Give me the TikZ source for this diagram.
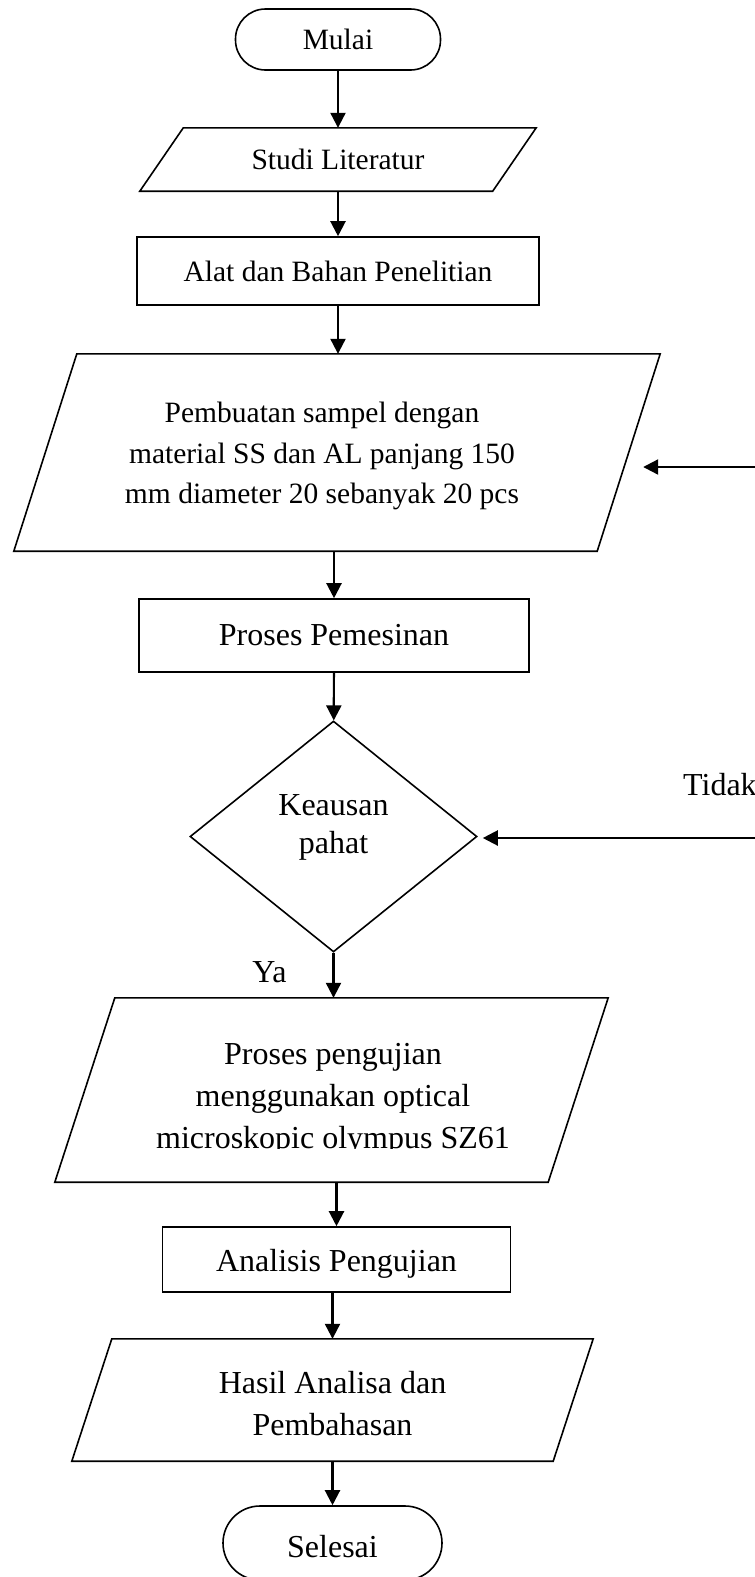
\documentclass[tikz,border=0pt]{standalone}
\usepackage{fontspec}
\setmainfont{Liberation Serif}
\usetikzlibrary{shapes.geometric,arrows.meta}

\begin{document}
\begin{tikzpicture}[x=1pt,y=-1pt]

% font sizes
\def\fsmall{\fontsize{29.5}{40.5}\selectfont}
\def\fbig{\fontsize{32}{42}\selectfont}
% node style definition
\tikzstyle{term} = [draw, rectangle, line width=1.6pt, inner sep=0pt];
\tikzstyle{block} = [draw, rectangle, line width=1.6pt, inner sep=0pt];
\tikzstyle{io} = [rectangle, inner sep=0pt, align=center];
\tikzstyle{decision} = [draw, diamond, line width=1.6pt, inner sep=0pt];
\tikzstyle{plain} = [draw=none, fill=none, inner sep=0pt, align=center];
\tikzstyle{arr} = [-{Triangle[length=15pt,width=15pt]}, line width=2.2pt];
% slanted outline round an io node
\def\iobox#1#2{\draw[line width=1.6pt] (#1.south west) -- ([xshift=#2]#1.north west)
	-- (#1.north east) -- ([xshift=-#2]#1.south east) -- cycle;}

\useasboundingbox (0,0) rectangle (755,1577);

\node[term, rounded corners=30pt, minimum width=205pt, minimum height=61pt, font=\fsmall] (mulai) at (338,39.5) {Mulai};

\node[io, minimum width=396pt, minimum height=63pt, font=\fsmall] (studi) at (338,159.5) {Studi Literatur};
\iobox{studi}{43.5pt}

\node[block, minimum width=402pt, minimum height=68pt, font=\fsmall] (alat) at (338,271) {Alat dan Bahan Penelitian};

\node[io, minimum width=646pt, minimum height=197pt] (buat) at (337,452.5) {};
\iobox{buat}{63pt}
\node[plain, font=\fsmall] (buattxt) at (322,456) {Pembuatan sampel dengan\\material SS dan AL panjang 150\\mm diameter 20 sebanyak 20 pcs};

\node[block, minimum width=390pt, minimum height=73pt, font=\fbig] (proses) at (334,635.5) {Proses Pemesinan};

\node[decision, minimum width=287pt, minimum height=231pt] (kt) at (333.5,836.5) {};
\node[plain, font=\fontsize{32}{38}\selectfont] (kttxt) at (333.5,827) {Keausan\\pahat};

\node[plain, font=\fbig] (ya) at (269.5,972.5) {Ya};
\node[plain, font=\fbig, anchor=base west] (tidak) at (683,795) {Tidak};

\node[io, minimum width=553pt, minimum height=184pt] (uji) at (331.5,1090) {};
\iobox{uji}{60pt}
\begin{scope}
\clip (0,0) rectangle (755,1148);
\node[plain, font=\fbig] (ujitxt) at (333,1099) {Proses pengujian\\menggunakan optical\\microskopic olympus SZ61};
\end{scope}

\node[block, minimum width=348pt, minimum height=65pt, font=\fbig, text height=30pt] (ana) at (336.5,1259.5) {Analisis Pengujian};

\node[io, minimum width=521pt, minimum height=122pt, font=\fbig, text height=72pt] (hasil) at (332.5,1400) {Hasil Analisa dan\\Pembahasan};
\iobox{hasil}{40pt}

\node[term, rounded corners=37pt, minimum width=219pt, minimum height=74pt, font=\fbig, text height=30pt] (selesai) at (332.5,1543) {Selesai};

% main flow
\draw[arr] (mulai) -- (studi);
\draw[arr] (studi) -- (alat);
\draw[arr] (alat) -- (alat |- buat.north);
\draw[arr] (buat.south -| proses) -- (proses);
\draw[arr] (proses) -- (kt);
\draw[arr] (kt) -- (kt |- uji.north);
\draw[arr] (uji.south -| ana) -- (ana);
\draw[arr] (hasil |- ana.south) -- (hasil);
\draw[arr] (hasil) -- (selesai);

% loops coming in from the right
\coordinate (back1) at (755,467);
\coordinate (back2) at (755,838);
\draw[arr, shorten >=-17pt] (back1) -- (back1 -| buat.east);
\draw[arr, shorten >=5pt] (back2) -- (back2 -| kt.east);

\end{tikzpicture}
\end{document}
